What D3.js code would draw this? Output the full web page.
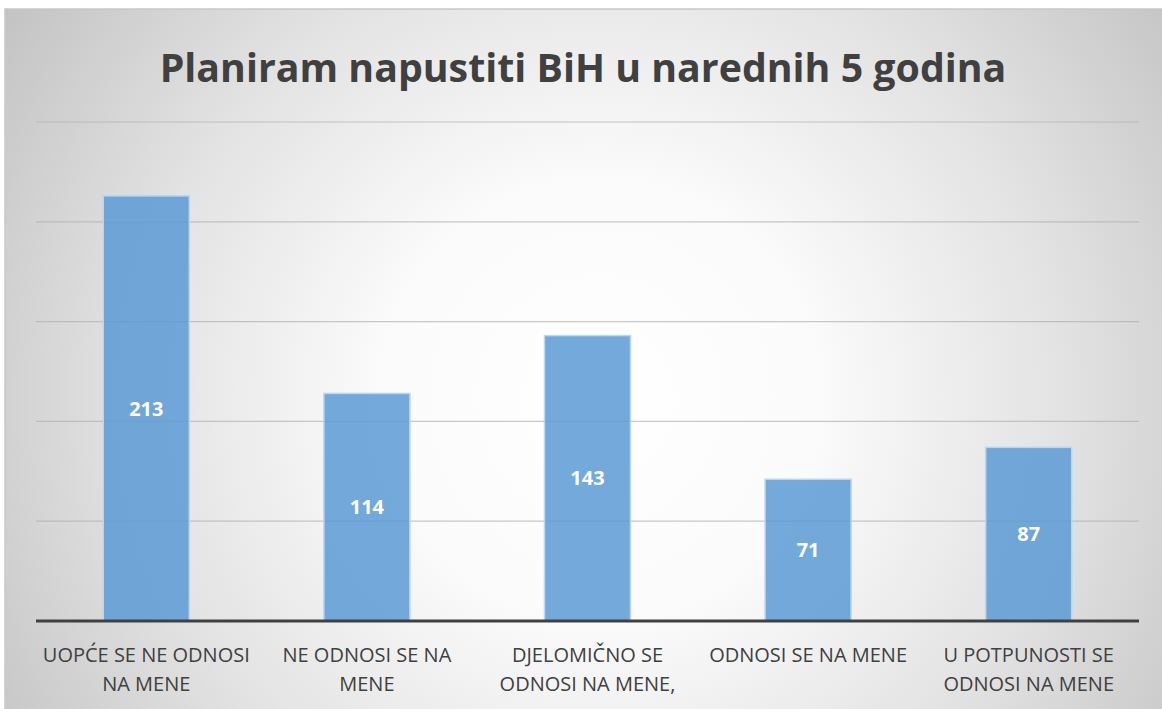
<!DOCTYPE html>
<html>
<head>
<meta charset="utf-8">
<script src="https://cdn.jsdelivr.net/npm/d3@7"></script>
<style>
  html, body { margin: 0; padding: 0; background: #fff; }
  svg { display: block; }
</style>
</head>
<body>
<svg id="chart" width="1162" height="709"></svg>
<script>
// data
const title = "Planiram napustiti BiH u narednih 5 godina";
const categories = [
  "UOPĆE SE NE ODNOSI\nNA MENE",
  "NE ODNOSI SE NA\nMENE",
  "DJELOMIČNO SE\nODNOSI NA MENE,",
  "ODNOSI SE NA MENE",
  "U POTPUNOSTI SE\nODNOSI NA MENE"
];
const values = [213, 114, 143, 71, 87];
const gridTicks = [50, 100, 150, 200, 250];

const svg = d3.select("#chart");
const font = "'Open Sans', 'Liberation Sans', sans-serif";

// background panel with a soft radial gradient
const defs = svg.append("defs");
const grad = defs.append("radialGradient")
  .attr("id", "bg").attr("gradientUnits", "userSpaceOnUse")
  .attr("cx", 600).attr("cy", 400).attr("r", 720);
grad.append("stop").attr("offset", "0%").attr("stop-color", "#ffffff");
grad.append("stop").attr("offset", "30%").attr("stop-color", "#fbfbfb");
grad.append("stop").attr("offset", "65%").attr("stop-color", "#e2e2e2");
grad.append("stop").attr("offset", "100%").attr("stop-color", "#c2c2c2");

svg.append("rect")
  .attr("x", 5).attr("y", 9).attr("width", 1162).attr("height", 710)
  .attr("fill", "url(#bg)")
  .attr("stroke", "#c8c8c8").attr("stroke-width", 1.5);

const x = d3.scaleBand()
  .domain(categories)
  .range([36, 1139])
  .paddingInner(0.61)
  .paddingOuter(0.305);

const y = d3.scaleLinear().domain([0, 250]).range([621, 122]);

// gridlines
svg.append("g")
  .selectAll("line")
  .data(gridTicks)
  .join("line")
  .attr("x1", 36).attr("x2", 1139)
  .attr("y1", d => y(d)).attr("y2", d => y(d))
  .attr("stroke", "#b0b0b0").attr("stroke-opacity", 0.7).attr("stroke-width", 1.2);

// bars
const data = categories.map((c, i) => ({ cat: c, val: values[i] }));
svg.append("g")
  .selectAll("rect")
  .data(data)
  .join("rect")
  .attr("x", d => x(d.cat))
  .attr("y", d => y(d.val))
  .attr("width", x.bandwidth())
  .attr("height", d => y(0) - y(d.val))
  .attr("fill", "#5b9bd5").attr("fill-opacity", 0.85)
  .attr("stroke", "#bcd6ee").attr("stroke-width", 1.5);

// value labels
svg.append("g")
  .selectAll("text")
  .data(data)
  .join("text")
  .attr("x", d => x(d.cat) + x.bandwidth() / 2)
  .attr("y", d => (y(d.val) + y(0)) / 2)
  .attr("dy", "0.36em")
  .attr("text-anchor", "middle")
  .attr("font-family", font).attr("font-weight", 700).attr("font-size", 20)
  .attr("fill", "#ffffff")
  .text(d => d.val);

// baseline
svg.append("line")
  .attr("x1", 36).attr("x2", 1139)
  .attr("y1", y(0)).attr("y2", y(0))
  .attr("stroke", "#404040").attr("stroke-width", 3);

// category labels
const labels = svg.append("g")
  .selectAll("text")
  .data(categories)
  .join("text")
  .attr("text-anchor", "middle")
  .attr("font-family", font).attr("font-size", 20)
  .attr("fill", "#404040");
labels.selectAll("tspan")
  .data(d => d.split("\n").map(t => ({ t, c: d })))
  .join("tspan")
  .attr("x", d => x(d.c) + x.bandwidth() / 2)
  .attr("y", (d, i) => 662 + i * 28.5)
  .text(d => d.t);

// title, sized to the width it has in the picture
const t = svg.append("text")
  .attr("x", 583).attr("y", 82)
  .attr("text-anchor", "middle")
  .attr("font-family", font).attr("font-weight", 700).attr("font-size", 40)
  .attr("fill", "#404040")
  .text(title);
const w = t.node().getComputedTextLength();
t.attr("font-size", 40 * 847 / w);
</script>
</body>
</html>
